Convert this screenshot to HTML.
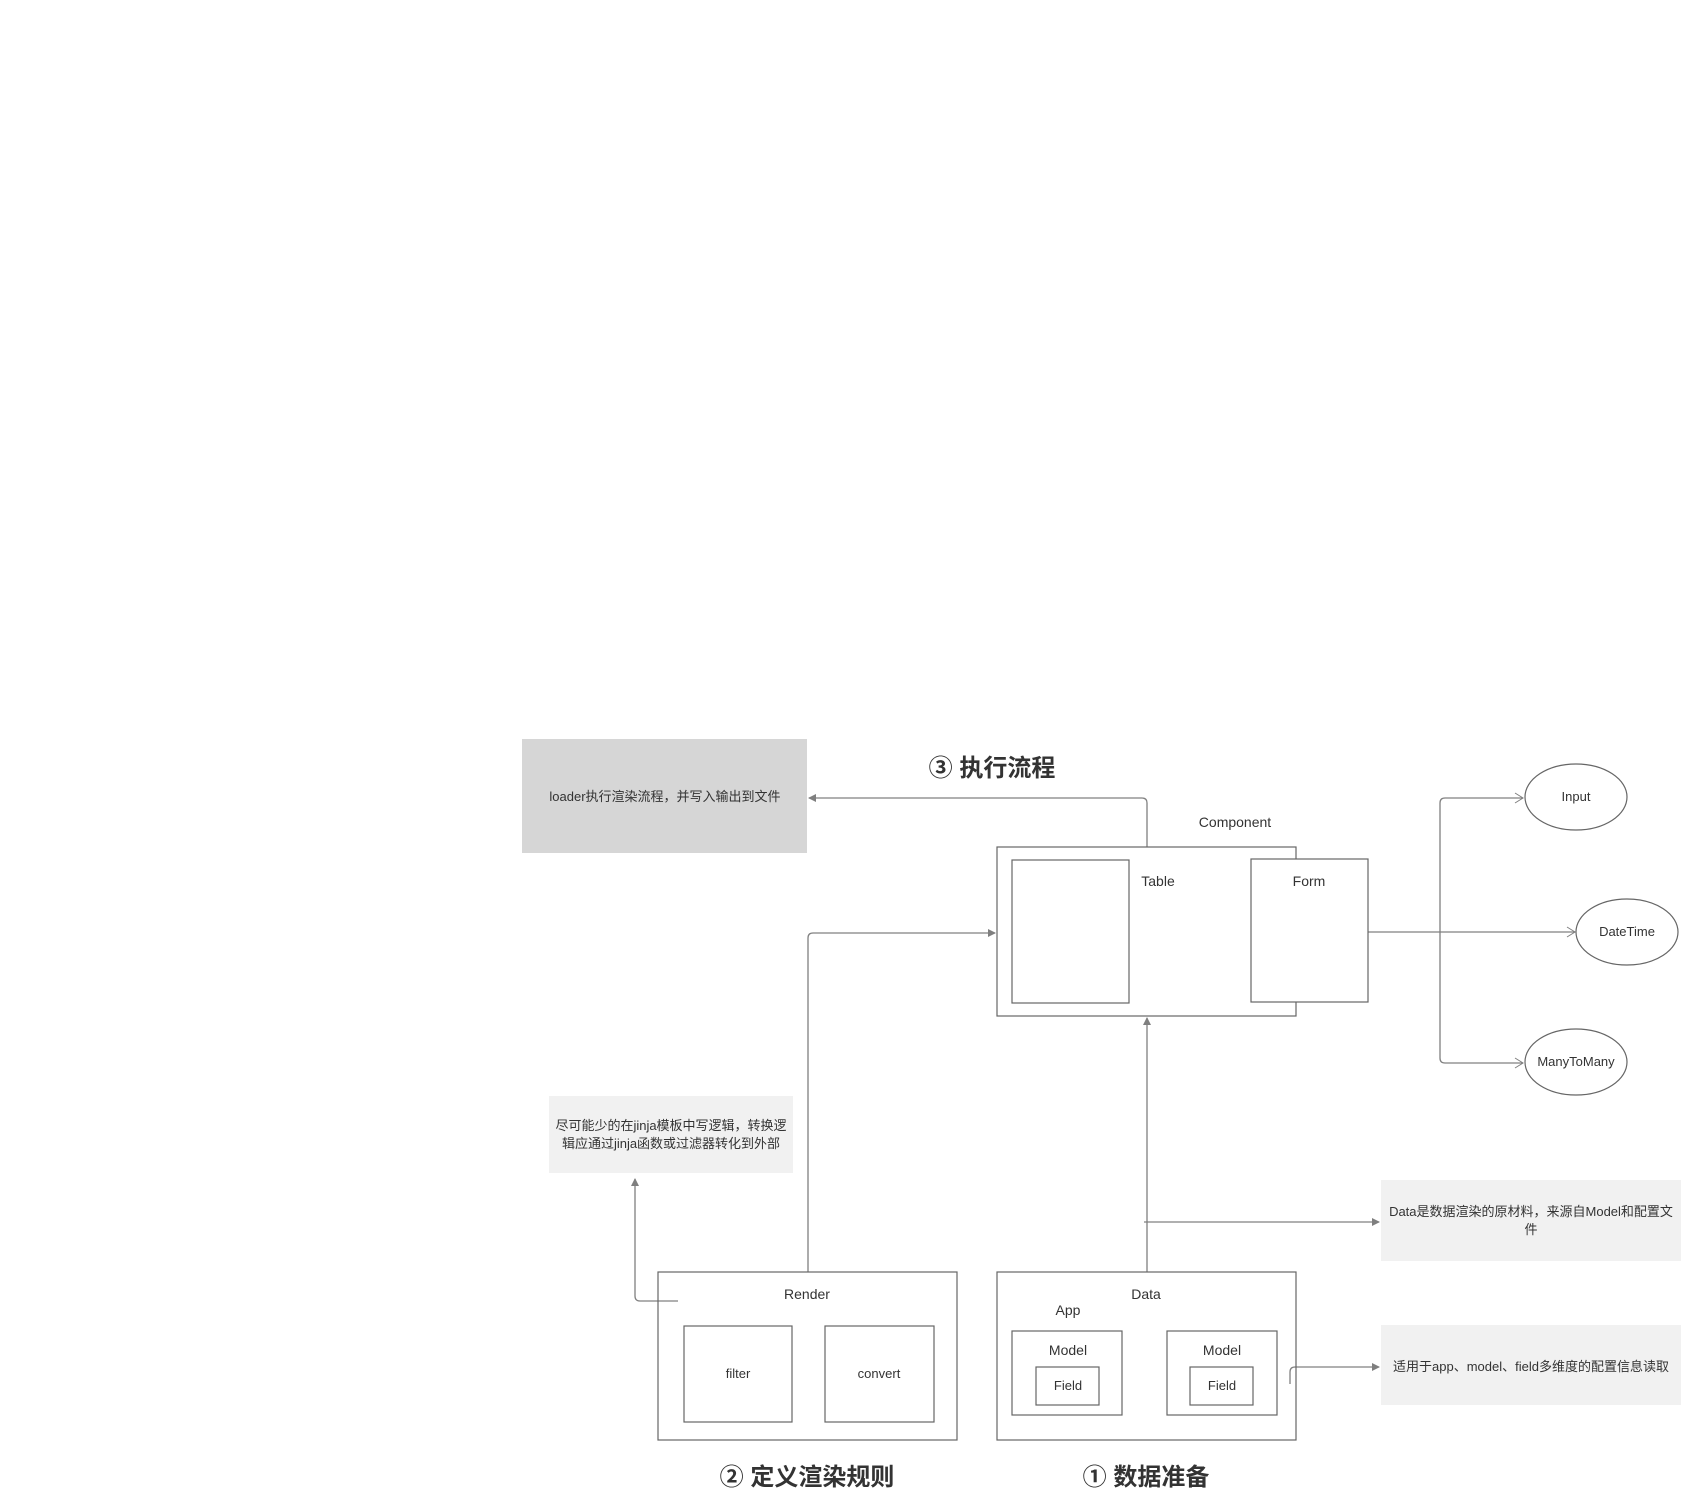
<!DOCTYPE html>
<html><head><meta charset="utf-8"><style>
html,body{margin:0;padding:0;background:#fff;}
svg{display:block;font-family:"Liberation Sans","Noto Sans CJK SC",sans-serif;}
</style></head><body>
<svg width="1681" height="1494" viewBox="0 0 1681 1494" xmlns="http://www.w3.org/2000/svg">
<defs>
<marker id="a" markerWidth="10" markerHeight="10" refX="8" refY="5" orient="auto" markerUnits="userSpaceOnUse"><path d="M1,1 L9,5 L1,9 Z" fill="#7f7f7f"/></marker>
<marker id="o" markerWidth="12" markerHeight="12" refX="10" refY="6" orient="auto" markerUnits="userSpaceOnUse"><path d="M2,1 L10,6 L2,11" fill="none" stroke="#7f7f7f" stroke-width="1"/></marker>
</defs>
<g fill="none" stroke="#808080" stroke-width="1.3">
<path d="M1147,847 V803 Q1147,798 1142,798 H809" marker-end="url(#a)"/>
<path d="M808,1272 V938 Q808,933 813,933 H995" marker-end="url(#a)"/>
<path d="M1147,1272 V1018" marker-end="url(#a)"/>
<path d="M1144,1222 H1379" marker-end="url(#a)"/>
<path d="M1290,1384 V1372 Q1290,1367 1295,1367 H1379" marker-end="url(#a)"/>
<path d="M678,1301 H640 Q635,1301 635,1296 V1179" marker-end="url(#a)"/>
<path d="M1368,932 H1474 M1474,932 H1575" marker-end="url(#o)"/>
<path d="M1440,932 V803 Q1440,798 1445,798 H1523" marker-end="url(#o)"/>
<path d="M1440,932 V1058 Q1440,1063 1445,1063 H1523" marker-end="url(#o)"/>
</g>
<rect x="522" y="739" width="285" height="114" fill="#d6d6d6"/>
<rect x="549" y="1096" width="244" height="77" fill="#f1f1f1"/>
<rect x="1381" y="1180" width="300" height="81" fill="#f1f1f1"/>
<rect x="1381" y="1325" width="300" height="80" fill="#f1f1f1"/>
<g fill="none" stroke="#666" stroke-width="1.2">
<rect x="997" y="847" width="299" height="169" fill="#fff"/>
<rect x="1012" y="860" width="117" height="143"/>
<rect x="1251" y="859" width="117" height="143" fill="#fff"/>
<rect x="658" y="1272" width="299" height="168"/>
<rect x="684" y="1326" width="108" height="96"/>
<rect x="825" y="1326" width="109" height="96"/>
<rect x="997" y="1272" width="299" height="168"/>
<rect x="1012" y="1331" width="110" height="84"/>
<rect x="1036" y="1367" width="63" height="38"/>
<rect x="1167" y="1331" width="110" height="84"/>
<rect x="1190" y="1367" width="63" height="38"/>
<ellipse cx="1576" cy="797" rx="51" ry="33" fill="#fff"/>
<ellipse cx="1627" cy="932" rx="51" ry="33" fill="#fff"/>
<ellipse cx="1576" cy="1062" rx="51" ry="33" fill="#fff"/>
</g>
<g fill="#333" font-size="13" text-anchor="middle">
<text x="665" y="801">loader执行渲染流程，并写入输出到文件</text>
<text x="671" y="1130">尽可能少的在jinja模板中写逻辑，转换逻</text>
<text x="671" y="1148">辑应通过jinja函数或过滤器转化到外部</text>
<text x="1531" y="1216">Data是数据渲染的原材料，来源自Model和配置文</text>
<text x="1531" y="1234">件</text>
<text x="1531" y="1371">适用于app、model、field多维度的配置信息读取</text>
<text x="1235" y="827" font-size="14">Component</text>
<text x="1158" y="886" font-size="14">Table</text>
<text x="1309" y="886" font-size="14">Form</text>
<text x="807" y="1299" font-size="14">Render</text>
<text x="738" y="1378">filter</text>
<text x="879" y="1378">convert</text>
<text x="1146" y="1299" font-size="14">Data</text>
<text x="1068" y="1315" font-size="14">App</text>
<text x="1068" y="1355" font-size="14">Model</text>
<text x="1222" y="1355" font-size="14">Model</text>
<text x="1068" y="1390">Field</text>
<text x="1222" y="1390">Field</text>
<text x="1576" y="801">Input</text>
<text x="1627" y="936">DateTime</text>
<text x="1576" y="1066">ManyToMany</text>
<g font-size="24" font-weight="bold" fill="#333">
<text x="992" y="776">③ 执行流程</text>
<text x="807" y="1485">② 定义渲染规则</text>
<text x="1146" y="1485">① 数据准备</text>
</g>
</g>
</svg>
</body></html>
